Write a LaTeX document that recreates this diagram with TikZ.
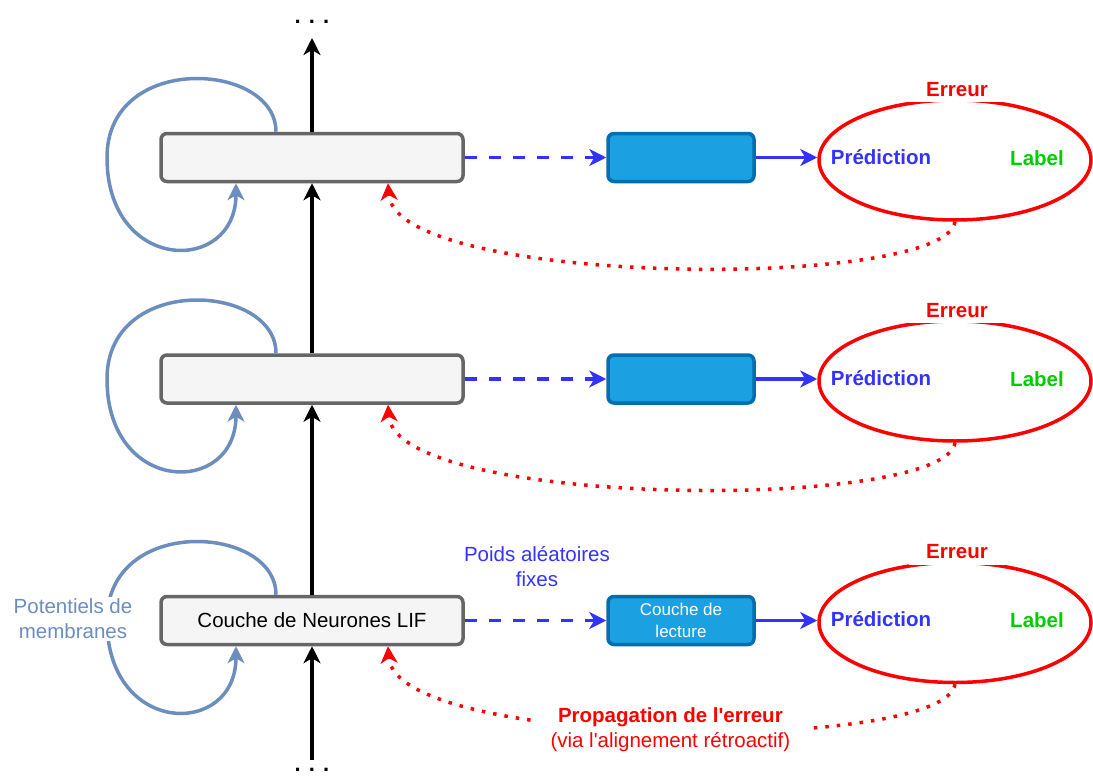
\documentclass[tikz,border=0pt]{standalone}
\usepackage{fontspec}
\setmainfont{Liberation Sans}
\usetikzlibrary{positioning,arrows.meta,shapes.geometric}

\definecolor{coucheFond}{HTML}{F5F5F5}
\definecolor{coucheBord}{HTML}{666666}
\definecolor{lectureFond}{HTML}{1BA1E2}
\definecolor{lectureBord}{HTML}{006EAF}
\definecolor{membrane}{HTML}{6C8EBF}
\definecolor{bleuPoids}{HTML}{3333FF}
\definecolor{vertLabel}{HTML}{00CC00}

\begin{document}
\begin{tikzpicture}[
        x=1pt, y=-1pt,
        every node/.style={font=\fontsize{20.5}{25}\selectfont},
        couche/.style={draw=coucheBord, fill=coucheFond, line width=3.5pt, rounded corners=6pt,
                       minimum width=302pt, minimum height=48pt, inner sep=0pt},
        lecture/.style={draw=lectureBord, fill=lectureFond, line width=3.5pt, rounded corners=6pt,
                        minimum width=146pt, minimum height=48pt, inner sep=0pt, text=white,
                        align=center, font=\fontsize{17}{22}\selectfont},
        zone/.style={ellipse, draw=red, line width=3.5pt, minimum width=272pt,
                     minimum height=120pt, inner sep=0pt},
        titre/.style={fill=white, text=red, font=\fontsize{20.5}{25}\selectfont\bfseries,
                      inner xsep=17pt, inner ysep=6pt},
        pred/.style={text=bleuPoids, font=\fontsize{20.5}{25}\selectfont\bfseries},
        etiq/.style={text=vertLabel, font=\fontsize{20.5}{25}\selectfont\bfseries},
        pointe/.style={-{Stealth[length=17pt,width=17pt,inset=5pt]}},
        fleche/.style={pointe, draw=black, line width=3.5pt},
        boucle/.style={pointe, draw=membrane, line width=3.5pt},
        poids/.style={pointe, draw=bleuPoids, line width=3.5pt, dash pattern=on 12pt off 12pt},
        sortie/.style={pointe, draw=bleuPoids, line width=3.5pt},
        retro/.style={pointe, draw=red, line width=3.5pt, dash pattern=on 3.5pt off 8pt},
        points/.style={anchor=base, font=\fontsize{22}{25}\selectfont\bfseries}
    ]
        \useasboundingbox (0,0) rectangle (1093,776);

        % couches LIF et couches de lecture
        \node[couche]  (c1) at (312,157.5) {};
        \node[couche]  (c2) at (312,379)   {};
        \node[couche]  (c3) at (312,620.5) {Couche de Neurones LIF};
        \node[lecture] (l1) at (681,157.5) {};
        \node[lecture] (l2) at (681,379)   {};
        \node[lecture] (l3) at (681,620.5) {Couche de\\lecture};

        % zones d'erreur
        \foreach \i/\y in {1/160,2/381,3/622.5} {
            \node[zone] (e\i) at (955,\y) {};
            \node[titre] (t\i) at ([xshift=2pt,yshift=9pt]e\i.north) {Erreur};
            \node[pred] (p\i) at (881,\y-3) {Prédiction};
            \node[etiq] (lb\i) at (1037,\y-2) {Label};
        }

        \coordinate (entree) at (312,760);
        \coordinate (suite)  at (312,38);
        \node[points] (haut) at (312,24)  {. . .};
        \node[points] (bas)  at (312,771) {. . .};

        \foreach \a/\b in {entree/c3,c3/c2,c2/c1,c1/suite} \draw[fleche] (\a) -- (\b);

        \foreach \i in {1,2,3} {
            \draw[boucle] ([xshift=-36pt]c\i.north) .. controls +(0,-70) and +(0,-106) ..
                ([xshift=-205pt]c\i.center) .. controls +(0,116) and +(0,92) ..
                ([xshift=-76pt]c\i.south);
            \draw[poids] (c\i) -- (l\i);
            \draw[sortie] (l\i) -- (l\i -| e\i.west);
        }
        \draw[retro] (e1.south) .. controls +(-10,69) and +(7,104) .. ([xshift=76pt]c1.south);
        \draw[retro] (e2.south) .. controls +(-10,69) and +(7,104) .. ([xshift=76pt]c2.south);
        \draw[retro] (e3.south) .. controls +(-10,69) and +(7,104) .. ([xshift=76pt]c3.south)
            node[pos=0.5, fill=white, align=center, text=red, inner xsep=18pt, inner ysep=1pt]
            (propag) {\textbf{Propagation de l\textquotesingle erreur}\\(via l\textquotesingle alignement rétroactif)};

        \node[fill=white, text=membrane, align=center, inner sep=2pt] (potentiels) at (73,619)
            {Potentiels de\\membranes};
        \node[text=bleuPoids, align=center] (aleatoire) at (537,567) {Poids aléatoires\\fixes};
    \end{tikzpicture}
\end{document}
